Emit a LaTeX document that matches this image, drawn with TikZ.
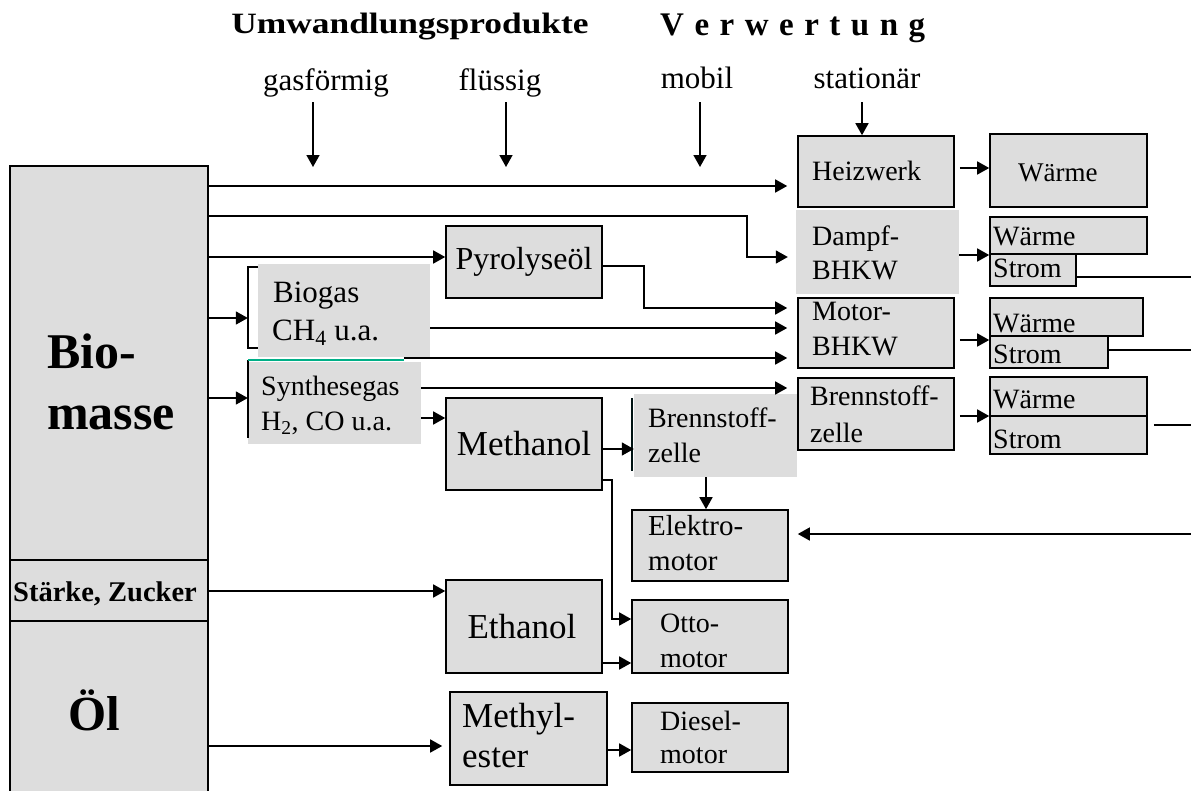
\documentclass[tikz,border=0pt]{standalone}
\usepackage{fontspec}
\setmainfont{Liberation Serif}
\usetikzlibrary{arrows.meta,fit}
\definecolor{boxgray}{RGB}{221,221,221}
\definecolor{edgeteal}{RGB}{0,175,135}
\newcommand\fsz[1]{\fontsize{#1}{#1}\selectfont}
\begin{document}
\begin{tikzpicture}[x=1pt,y=-1pt,
  box/.style={draw, fill=boxgray, line width=1.6pt, inner sep=0pt},
  flat/.style={fill=boxgray, inner sep=0pt},
  lbl/.style={inner sep=0pt, anchor=base west, font={\fsz{28}}},
  lblc/.style={inner sep=0pt, anchor=base, font={\fsz{28}}},
  conn/.style={line width=1.6pt},
  arr/.style={conn, -{Triangle[length=12pt,width=13pt]}},
]
\useasboundingbox (0,0) rectangle (1191,790);
\clip (0,0) rectangle (1191,790);

% headings
\node[lblc, font={\fsz{29.5}\bfseries\addfontfeatures{FakeStretch=1.2}}] (hprod) at (410,33) {Umwandlungsprodukte};
\node[lbl, font={\fsz{33}\bfseries}] (hverw) at (660,35) {{\spaceskip=10.5pt V e r w e r t u n g}};
\node[lblc, font={\fsz{31}}] (hgas) at (326,90) {gasförmig};
\node[lblc, font={\fsz{31}}] (hfl) at (500,90) {flüssig};
\node[lblc, font={\fsz{31}}] (hmob) at (697,88) {mobil};
\node[lblc, font={\fsz{31}}] (hsta) at (867,88) {stationär};

% raw material column
\node[box, fit={(10,166) (208,560)}] (bio) {};
\node[box, fit={(10,560) (208,621)}] (sz) {};
\node[box, fit={(10,621) (208,800)}] (oel) {};
\node[lbl, font={\fsz{50}\bfseries}] (tbio1) at (47,368) {Bio-};
\node[lbl, font={\fsz{50}\bfseries}] (tbio2) at (47,429) {masse};
\node[lblc, font={\fsz{28.5}\bfseries}] (tsz) at (105,601) {Stärke, Zucker};
\node[lblc, font={\fsz{49}\bfseries}] (toel) at (94,730) {Öl};

% conversion products
\node[box, fit={(446,226) (602,298)}] (pyro) {};
\node[flat, fit={(258,264) (430,357)}] (biogas) {};
\draw[conn] (258,267) -- (248,267) -- (248,348) -- (258,348);
\node[flat, fit={(248,362) (421,444)}] (syn) {};
\draw[conn] (248,360) -- (248,438);
\draw[edgeteal, line width=1.6pt] (248,360) -- (404,360);
\node[box, fit={(446,398) (602,490)}] (meth) {};
\node[box, fit={(446,580) (602,673)}] (eth) {};
\node[box, fit={(450,692) (607,785)}] (mest) {};

% mobile use
\node[flat, fit={(634,394) (797,477)}] (bzm) {};
\draw[conn, black!85!teal] (632,398) -- (632,471);
\node[box, fit={(632,510) (788,581)}] (elek) {};
\node[box, fit={(632,600) (788,673)}] (otto) {};
\node[box, fit={(632,703) (788,772)}] (dies) {};

% stationary use
\node[box, fit={(798,136) (954,207)}] (hw) {};
\node[flat, fit={(796,210) (959,294)}] (dampf) {};
\node[box, fit={(798,298) (954,368)}] (mb) {};
\node[box, fit={(798,378) (954,450)}] (bzr) {};
\node[box, fit={(990,134) (1147,207)}] (w1) {};
\node[box, fit={(990,217) (1147,254)}] (w2) {};
\node[box, fit={(990,254) (1076,286)}] (s2) {};
\node[box, fit={(990,298) (1143,336)}] (w3) {};
\node[box, fit={(990,336) (1108,368)}] (s3) {};
\node[box, fit={(990,377) (1147,416)}] (w4) {};
\node[box, fit={(990,416) (1147,454)}] (s4) {};

% box texts
\node[lblc, font={\fsz{32}}] (tpyro) at (524,269) {Pyrolyseöl};
\node[lbl, font={\fsz{31}}] (tbg1) at (273,302) {Biogas};
\node[lbl, font={\fsz{31}}] (tbg2) at (272,340) {CH\textsubscript{4} u.a.};
\node[lbl] (tsy1) at (261,395) {Synthesegas};
\node[lbl] (tsy2) at (261,430) {H\textsubscript{2}, CO u.a.};
\node[lblc, font={\fsz{35}}] (tmeth) at (524,455) {Methanol};
\node[lblc, font={\fsz{35}}] (teth) at (522,638) {Ethanol};
\node[lbl, font={\fsz{35}}] (tme1) at (462,727) {Methyl-};
\node[lbl, font={\fsz{35}}] (tme2) at (462,767) {ester};
\node[lbl] (tbz1) at (648,427) {Brennstoff-};
\node[lbl] (tbz2) at (648,462) {zelle};
\node[lbl, font={\fsz{29}}] (tel1) at (648,535) {Elektro-};
\node[lbl, font={\fsz{29}}] (tel2) at (648,570) {motor};
\node[lbl] (tot1) at (660,632) {Otto-};
\node[lbl] (tot2) at (660,667) {motor};
\node[lbl] (tdi1) at (660,730) {Diesel-};
\node[lbl] (tdi2) at (660,763) {motor};
\node[lbl] (thw) at (812,180) {Heizwerk};
\node[lbl] (tda1) at (812,245) {Dampf-};
\node[lbl] (tda2) at (812,279) {BHKW};
\node[lbl] (tmb1) at (812,320) {Motor-};
\node[lbl] (tmb2) at (812,355) {BHKW};
\node[lbl] (tbr1) at (810,405) {Brennstoff-};
\node[lbl] (tbr2) at (810,442) {zelle};
\node[lbl, font={\fsz{27}}] (tw1) at (1018,181) {Wärme};
\node[lbl] (tw2) at (993,245) {Wärme};
\node[lbl] (ts2) at (993,277) {Strom};
\node[lbl] (tw3) at (993,332) {Wärme};
\node[lbl] (ts3) at (993,363) {Strom};
\node[lbl] (tw4) at (993,408) {Wärme};
\node[lbl] (ts4) at (993,448) {Strom};

% free ends of connectors
\coordinate (gtop) at (313,102);  \coordinate (gbot) at (313,167);
\coordinate (ftop) at (506,102);  \coordinate (fbot) at (506,167);
\coordinate (mtop) at (700,102);  \coordinate (mbot) at (700,167);
\coordinate (stop) at (862,102);
\coordinate (synup) at (404,358);
\coordinate (edgeel) at (1191,534);
\coordinate (edge2) at (1191,277);
\coordinate (edge3) at (1191,350);
\coordinate (edge4) at (1191,425);

% heading arrows
\draw[arr] (gtop) -- (gbot);
\draw[arr] (ftop) -- (fbot);
\draw[arr] (mtop) -- (mbot);
\draw[arr] (stop) -- (stop |- hw.north);

% connectors from the raw materials
\draw[arr, shorten >=10pt] (bio.east |- 0,186) -- (hw.west |- 0,186);
\draw[arr, shorten >=8pt] (bio.east |- 0,216) -| (747,257) -- (dampf.west |- 0,257);
\draw[arr] (bio.east |- 0,257) -- (pyro.west |- 0,257);
\draw[arr] (bio.east |- 0,318) -- ([xshift=-10pt]biogas.west |- 0,318);
\draw[arr] (bio.east |- 0,398) -- (syn.west |- 0,398);
\draw[arr] (sz.east |- 0,591) -- (eth.west |- 0,591);
\draw[arr, shorten >=7pt] (oel.east |- 0,746) -- (mest.west |- 0,746);

% connectors from the conversion products
\draw[arr, shorten >=10pt] (pyro.east |- 0,266) -| (644,308) -- (mb.west |- 0,308);
\draw[arr, shorten >=10pt] (biogas.east |- 0,328) -- (mb.west |- 0,328);
\draw[arr, shorten >=10pt] (synup) -- (mb.west |- synup);
\draw[arr, shorten >=10pt] (syn.east |- 0,388) -- (bzr.west |- 0,388);
\draw[arr] (syn.east |- 0,418) -- (meth.west |- 0,418);
\draw[arr] (meth.east |- 0,449) -- (bzm.west |- 0,449);
\draw[conn, -{Triangle[length=12pt,width=13pt]}] (meth.east |- 0,480) -| (612,619) -- (otto.west |- 0,619);
\draw[arr] (eth.east |- 0,663) -- (otto.west |- 0,663);
\draw[arr] (mest.east |- 0,750) -- (dies.west |- 0,750);
\draw[arr] (706,0 |- bzm.south) -- (706,0 |- elek.north);
\draw[arr, shorten >=9pt] (edgeel) -- (elek.east |- edgeel);

% connectors of the stationary plants
\draw[arr, shorten <=5pt] (hw.east |- 0,168) -- (w1.west |- 0,168);
\draw[arr] (dampf.east |- 0,255) -- (w2.west |- 0,255);
\draw[arr, shorten <=5pt] (mb.east |- 0,340) -- (w3.west |- 0,340);
\draw[arr, shorten <=5pt] (bzr.east |- 0,416) -- (w4.west |- 0,416);
\draw[conn] (s2.east |- edge2) -- (edge2);
\draw[conn] (s3.east |- edge3) -- (edge3);
\draw[conn, shorten <=6pt] (s4.east |- edge4) -- (edge4);
\end{tikzpicture}
\end{document}
